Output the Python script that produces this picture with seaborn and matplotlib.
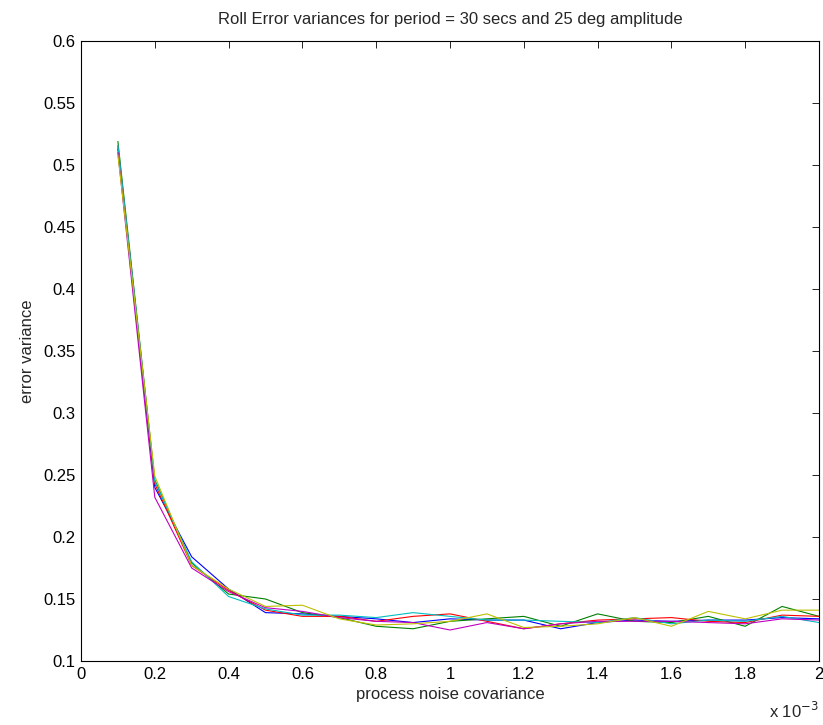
import matplotlib
matplotlib.use("Agg")
import matplotlib.pyplot as plt
import seaborn as sns
import pandas as pd
from matplotlib.ticker import FuncFormatter, MultipleLocator

# process noise covariance (x 10^-3)
q = [0.1, 0.2, 0.3, 0.4, 0.5, 0.6, 0.7, 0.8, 0.9, 1.0,
     1.1, 1.2, 1.3, 1.4, 1.5, 1.6, 1.7, 1.8, 1.9, 2.0]

run_b = [0.513, 0.240, 0.184, 0.158, 0.139, 0.138, 0.136, 0.134, 0.131, 0.134,
         0.133, 0.133, 0.126, 0.131, 0.133, 0.132, 0.133, 0.133, 0.135, 0.134]
run_g = [0.519, 0.246, 0.179, 0.154, 0.150, 0.139, 0.135, 0.128, 0.126, 0.132,
         0.134, 0.136, 0.128, 0.138, 0.132, 0.131, 0.136, 0.128, 0.144, 0.136]
run_r = [0.515, 0.243, 0.177, 0.157, 0.141, 0.136, 0.136, 0.132, 0.136, 0.138,
         0.132, 0.126, 0.130, 0.133, 0.134, 0.135, 0.132, 0.131, 0.137, 0.136]
run_c = [0.516, 0.245, 0.180, 0.152, 0.142, 0.137, 0.137, 0.135, 0.139, 0.136,
         0.133, 0.133, 0.132, 0.131, 0.135, 0.130, 0.133, 0.132, 0.136, 0.131]
run_m = [0.510, 0.232, 0.175, 0.156, 0.143, 0.140, 0.135, 0.132, 0.131, 0.125,
         0.131, 0.126, 0.130, 0.132, 0.132, 0.132, 0.131, 0.130, 0.134, 0.133]
run_y = [0.508, 0.249, 0.177, 0.158, 0.144, 0.145, 0.134, 0.129, 0.130, 0.132,
         0.138, 0.127, 0.128, 0.130, 0.135, 0.128, 0.140, 0.134, 0.141, 0.141]

runs = {"b": run_b, "g": run_g, "r": run_r, "c": run_c, "m": run_m, "y": run_y}
colors = {"b": (0, 0, 1), "g": (0, 0.5, 0), "r": (1, 0, 0),
          "c": (0, 0.75, 0.75), "m": (0.75, 0, 0.75), "y": (0.75, 0.75, 0)}

title = "Roll Error variances for period = 30 secs and 25 deg amplitude"
xlabel = "process noise covariance"
ylabel = "error variance"

rows = []
for k, vals in runs.items():
    for xv, yv in zip(q, vals):
        rows.append({"q": xv, "var": yv, "run": k})
df = pd.DataFrame(rows)

sns.set_style("white")
plt.rcParams["font.family"] = ["Liberation Sans", "DejaVu Sans"]
plt.rcParams["font.size"] = 12

fig = plt.figure(figsize=(8.23, 7.25), dpi=100)
ax = fig.add_axes([81 / 823, 1 - 661 / 725, 738 / 823, 620 / 725])

sns.lineplot(data=df, x="q", y="var", hue="run", palette=colors,
             sort=False, estimator=None, linewidth=0.8, legend=False, ax=ax)

ax.set_xlim(0, 2)
ax.set_ylim(0.1, 0.6)
ax.xaxis.set_major_locator(MultipleLocator(0.2))
ax.yaxis.set_major_locator(MultipleLocator(0.05))
fmt = FuncFormatter(lambda v, p: f"{round(v, 4):g}")
ax.xaxis.set_major_formatter(fmt)
ax.yaxis.set_major_formatter(fmt)
ax.tick_params(direction="in", length=5, width=0.6, top=True, right=True,
               labelsize=12, colors="black", pad=4)
for s in ax.spines.values():
    s.set_linewidth(0.8)
    s.set_color("black")

ax.set_title(title, fontsize=12, pad=12)
ax.set_xlabel(xlabel, fontsize=12, labelpad=4)
ax.set_ylabel(ylabel, fontsize=12, labelpad=6)
ax.text(1.0, -0.064, r"x 10$^{-3}$", transform=ax.transAxes, ha="right",
        va="top", fontsize=12)

fig.savefig("out.png", dpi=100)
